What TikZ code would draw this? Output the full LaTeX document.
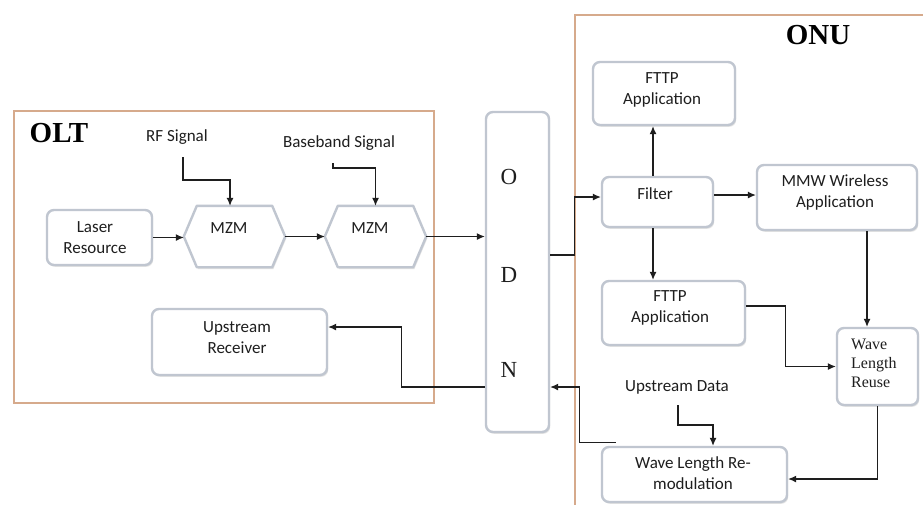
\documentclass[tikz,border=0pt]{standalone}
\usepackage{fontspec}
\setmainfont{Carlito}
\newfontfamily\serifface{Liberation Serif}
\usetikzlibrary{arrows.meta,shadows}

\definecolor{boxline}{RGB}{192,198,208}
\definecolor{frameline}{RGB}{214,170,140}
\definecolor{ink}{RGB}{30,30,30}

\tikzset{
  box/.style={draw=boxline, line width=2.4pt, rounded corners=7pt, fill=white,
    drop shadow={shadow xshift=1.2pt, shadow yshift=-1.8pt, fill=black!22}},
  hexcell/.style={draw=none, inner sep=0pt},
  hexline/.style={draw=boxline, line width=2.4pt, line join=round, fill=white,
    drop shadow={shadow xshift=1.2pt, shadow yshift=-1.8pt, fill=black!22}},
  txt/.style={font=\fontsize{17}{21}\selectfont, align=center, text=ink, inner sep=0pt},
  sertxt/.style={font=\serifface\fontsize{16}{19}\selectfont, align=left, text=ink, inner sep=0pt},
  heading/.style={font=\serifface\bfseries\fontsize{29}{29}\selectfont, text=black, inner sep=0pt},
  odnletter/.style={font=\serifface\fontsize{23}{23}\selectfont, text=ink, inner sep=0pt},
  frame/.style={draw=frameline, line width=1.6pt},
  conn/.style={draw=ink, line width=1.1pt, -{Latex[length=8pt,width=7pt]}},
}

\begin{document}
\begin{tikzpicture}[x=1pt,y=-1pt]
\useasboundingbox (0,0) rectangle (923,504);
\fill[white] (0,0) rectangle (923,504);

% outer frames
\draw[frame] (14,111) rectangle (434,403);
\draw[frame] (575,15) rectangle (940,530);
\node[heading] (olt) at (59,133) {OLT};
\node[heading] (onu) at (818,35) {ONU};

% ---------------- OLT side ----------------
\node[box, minimum width=105pt, minimum height=55pt] (laser) at (99.5,237.5) {};
\node[txt] (laser-t) at (95,237.5) {Laser\\Resource};

\node[hexcell, minimum width=101pt, minimum height=61pt] (mzm1) at (234.5,236.5) {};
\node[hexcell, minimum width=101pt, minimum height=61pt] (mzm2) at (375.5,236.5) {};
\foreach \m in {mzm1,mzm2}
  \draw[hexline] (\m.west) -- ([xshift=13pt]\m.north west) -- ([xshift=-13pt]\m.north east)
    -- (\m.east) -- ([xshift=-13pt]\m.south east) -- ([xshift=13pt]\m.south west) -- cycle;
\node[txt] (mzm1-t) at (229,228) {MZM};
\node[txt] (mzm2-t) at (370,228) {MZM};

\node[txt] (rf) at (177,137) {RF Signal};
\node[txt] (bb) at (339,143) {Baseband Signal};
\coordinate (rfsrc) at (183,157);
\coordinate (bbsrc) at (333,163);

\node[box, minimum width=175pt, minimum height=66pt] (upr) at (239.5,342) {};
\node[txt] (upr-t) at (237,337.5) {Upstream\\Receiver};

% ---------------- ODN ----------------
\node[box, minimum width=63pt, minimum height=320pt] (odn) at (517.5,272) {};
\node[odnletter] (odn-o) at (509,177) {O};
\node[odnletter] (odn-d) at (509,275) {D};
\node[odnletter] (odn-n) at (509,370) {N};

% ---------------- ONU side ----------------
\node[box, minimum width=142pt, minimum height=63pt] (fttp1) at (664,93.5) {};
\node[txt] (fttp1-t) at (662,89.5) {FTTP\\Application};

\node[box, minimum width=111pt, minimum height=50pt] (filter) at (657.5,202) {};
\node[txt] (filter-t) at (655,194) {Filter};

\node[box, minimum width=160pt, minimum height=65pt] (mmw) at (837,197.5) {};
\node[txt] (mmw-t) at (835,192.5) {MMW Wireless\\Application};

\node[box, minimum width=143pt, minimum height=64pt] (fttp2) at (673.5,313) {};
\node[txt] (fttp2-t) at (670,307.5) {FTTP\\Application};

\node[box, minimum width=81pt, minimum height=77pt] (wlr) at (877.5,366.5) {};
\node[sertxt, anchor=west] (wlr-t) at (851,363) {Wave\\Length\\Reuse};

\node[txt] (ud) at (677,387) {Upstream Data};
\coordinate (udsrc) at (678,405);

\node[box, minimum width=185pt, minimum height=55pt] (wlrm) at (694.5,474.5) {};
\node[txt] (wlrm-t) at (693,473.5) {Wave Length Re-\\modulation};

% ---------------- connectors ----------------
\draw[conn] (laser.east) -- (laser.east -| mzm1.west);
\draw[conn] (mzm1.east) -- (mzm2.west);
\draw[conn] (mzm2.east) -- (mzm2.east -| odn.west);
\draw[conn] (rfsrc) -- ++(0,23) -| ([xshift=-4.5pt]mzm1.north);
\draw[conn] (bbsrc) -- ++(0,5) -| (mzm2.north);
\draw[conn] ([yshift=-115pt]odn.west) -- ++(-83,0) |- ([yshift=15pt]upr.east);

\draw[conn] ([yshift=17pt]odn.east) -- ++(24,0) |- ([yshift=5pt]filter.west);
\coordinate (f-up) at ([xshift=-4.5pt]filter.north);
\coordinate (f-dn) at ([xshift=-4.5pt]filter.south);
\coordinate (f-rt) at ([yshift=7pt]filter.east);
\coordinate (m-dn) at ([xshift=30pt]mmw.south);
\draw[conn] (f-up) -- (f-up |- fttp1.south);
\draw[conn] (f-rt) -- (f-rt -| mmw.west);
\draw[conn] (f-dn) -- (f-dn |- fttp2.north);
\draw[conn] (m-dn) -- (m-dn |- wlr.north);
\draw[conn] ([yshift=7pt]fttp2.east) -- ++(39,0) |- (wlr.west);
\draw[conn] (wlr.south) |- ([yshift=-4.5pt]wlrm.east);
\draw[conn] (udsrc) -- ++(0,20) -| ([xshift=18.5pt]wlrm.north);
\draw[conn] ([xshift=15pt,yshift=3pt]wlrm.north west) -- ++(-36,0) |- ([yshift=-115pt]odn.east);
\end{tikzpicture}
\end{document}
